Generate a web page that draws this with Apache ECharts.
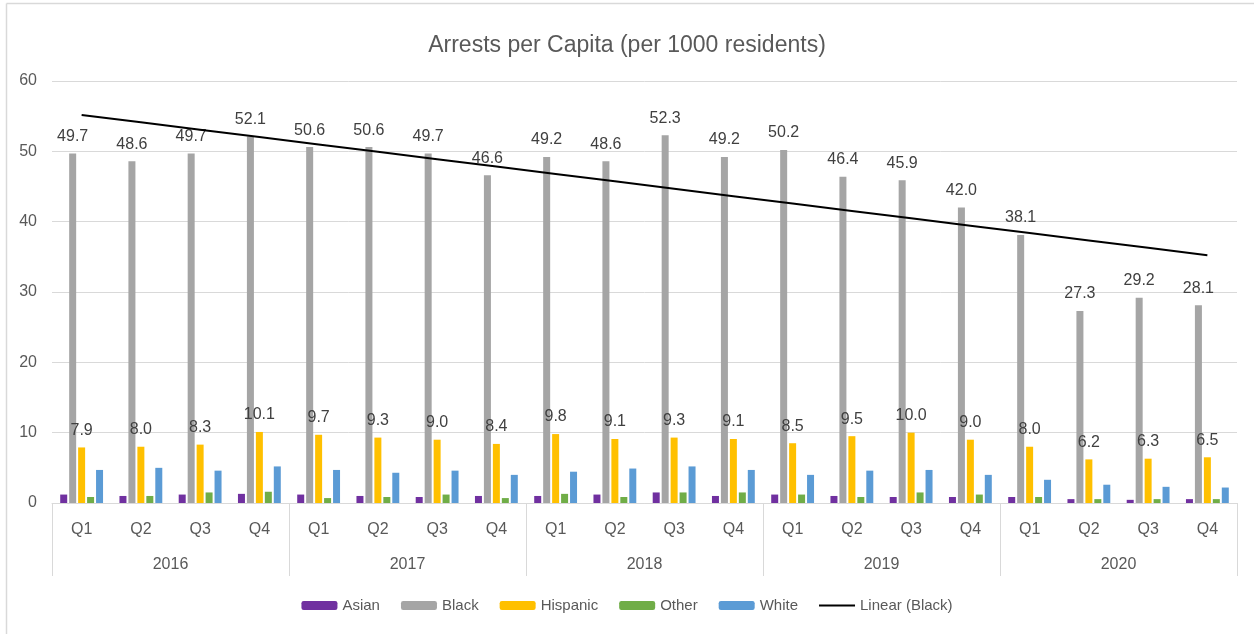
<!DOCTYPE html>
<html>
<head>
<meta charset="utf-8">
<title>Arrests per Capita</title>
<script src="https://cdn.jsdelivr.net/npm/echarts@6/dist/echarts.min.js"></script>
<style>
  html, body { margin: 0; padding: 0; background: #ffffff; }
  #chart { width: 1254px; height: 634px; }
</style>
</head>
<body>
<div id="chart"></div>
<script>
// Quarterly arrests per 1000 residents, 2016–2020
const years = ['2016', '2017', '2018', '2019', '2020'];
const quarters = ['Q1', 'Q2', 'Q3', 'Q4',
                  'Q1', 'Q2', 'Q3', 'Q4',
                  'Q1', 'Q2', 'Q3', 'Q4',
                  'Q1', 'Q2', 'Q3', 'Q4',
                  'Q1', 'Q2', 'Q3', 'Q4'];
const asian    = [1.2, 1.0, 1.2, 1.3, 1.2, 1.0, 0.85, 1.0, 1.0, 1.2, 1.5, 1.0, 1.2, 1.0, 0.85, 0.85, 0.85, 0.55, 0.45, 0.55];
const black    = [49.7, 48.6, 49.7, 52.1, 50.6, 50.6, 49.7, 46.6, 49.2, 48.6, 52.3, 49.2, 50.2, 46.4, 45.9, 42.0, 38.1, 27.3, 29.2, 28.1];
const hispanic = [7.9, 8.0, 8.3, 10.1, 9.7, 9.3, 9.0, 8.4, 9.8, 9.1, 9.3, 9.1, 8.5, 9.5, 10.0, 9.0, 8.0, 6.2, 6.3, 6.5];
const other    = [0.85, 1.0, 1.5, 1.6, 0.7, 0.85, 1.2, 0.7, 1.3, 0.85, 1.5, 1.5, 1.2, 0.85, 1.5, 1.2, 0.85, 0.55, 0.55, 0.55];
const white    = [4.7, 5.0, 4.6, 5.2, 4.7, 4.3, 4.6, 4.0, 4.45, 4.9, 5.2, 4.7, 4.0, 4.6, 4.7, 4.0, 3.3, 2.6, 2.3, 2.2];
const yTicks   = [0, 10, 20, 30, 40, 50, 60];

// Least-squares linear trend of the Black series
function linearTrend(values) {
  const n = values.length;
  let sx = 0, sy = 0, sxy = 0, sxx = 0;
  values.forEach((y, i) => {
    const x = i + 1;
    sx += x; sy += y; sxy += x * y; sxx += x * x;
  });
  const slope = (n * sxy - sx * sy) / (n * sxx - sx * sx);
  const intercept = (sy - slope * sx) / n;
  return values.map((_, i) => +(intercept + slope * (i + 1)).toFixed(3));
}
const blackTrend = linearTrend(black);

const FONT = '"Liberation Sans", Arial, sans-serif';
const TEXT = '#595959';
const GRID_LINE = '#d9d9d9';

const valueLabel = {
  show: true,
  position: 'top',
  distance: 9,
  color: '#404040',
  fontFamily: FONT,
  fontSize: 16,
  formatter: p => p.value.toFixed(1)
};

function barSeries(name, data, color, label) {
  return {
    name: name,
    type: 'bar',
    data: data,
    barWidth: 7,
    barGap: '28%',
    itemStyle: { color: color },
    label: label ? valueLabel : { show: false },
    emphasis: { disabled: true }
  };
}

const chart = echarts.init(document.getElementById('chart'), null, { renderer: 'canvas' });

chart.setOption({
  animation: false,
  backgroundColor: '#ffffff',
  textStyle: { fontFamily: FONT },
  title: {
    text: 'Arrests per Capita (per 1000 residents)',
    left: 'center',
    top: 29,
    textStyle: { color: TEXT, fontFamily: FONT, fontSize: 23, fontWeight: 'normal' }
  },
  legend: {
    bottom: 16,
    left: 'center',
    itemWidth: 36,
    itemHeight: 9,
    itemGap: 21,
    textStyle: { color: TEXT, fontFamily: FONT, fontSize: 15 },
    data: [
      'Asian', 'Black', 'Hispanic', 'Other', 'White',
      { name: 'Linear (Black)', icon: 'path://M0,0 L36,0 L36,2 L0,2 Z' }
    ]
  },
  grid: { left: 52, right: 17, top: 81, bottom: 131, containLabel: false },
  xAxis: [
    {
      type: 'category',
      data: quarters,
      position: 'bottom',
      axisLine: { show: true, lineStyle: { color: GRID_LINE, width: 1 } },
      axisTick: { show: false },
      axisLabel: { color: TEXT, fontFamily: FONT, fontSize: 16, margin: 19, interval: 0 },
      splitLine: { show: false }
    },
    {
      type: 'category',
      data: years,
      position: 'bottom',
      axisLine: { show: false },
      axisTick: { show: true, interval: 0, length: 73, lineStyle: { color: GRID_LINE, width: 1 } },
      axisLabel: { color: TEXT, fontFamily: FONT, fontSize: 16, margin: 54, interval: 0 },
      splitLine: { show: false }
    }
  ],
  yAxis: {
    type: 'value',
    min: yTicks[0],
    max: yTicks[yTicks.length - 1],
    interval: yTicks[1] - yTicks[0],
    axisLine: { show: false },
    axisTick: { show: false },
    axisLabel: { color: TEXT, fontFamily: FONT, fontSize: 16, margin: 15 },
    splitLine: { show: true, lineStyle: { color: GRID_LINE, width: 1 } }
  },
  graphic: [
    { type: 'line', silent: true, shape: { x1: 6.5, y1: 3.5, x2: 1254, y2: 3.5 }, style: { stroke: GRID_LINE, lineWidth: 1.5 } },
    { type: 'line', silent: true, shape: { x1: 6.5, y1: 3.5, x2: 6.5, y2: 634 }, style: { stroke: GRID_LINE, lineWidth: 1.5 } }
  ],
  series: [
    barSeries('Asian', asian, '#7030a0', false),
    barSeries('Black', black, '#a5a5a5', true),
    barSeries('Hispanic', hispanic, '#ffc000', true),
    barSeries('Other', other, '#70ad47', false),
    barSeries('White', white, '#5b9bd5', false),
    {
      name: 'Linear (Black)',
      type: 'line',
      data: blackTrend,
      symbol: 'none',
      showSymbol: false,
      lineStyle: { color: '#000000', width: 2 },
      itemStyle: { color: '#000000' },
      z: 5,
      emphasis: { disabled: true }
    }
  ]
});
</script>
</body>
</html>
